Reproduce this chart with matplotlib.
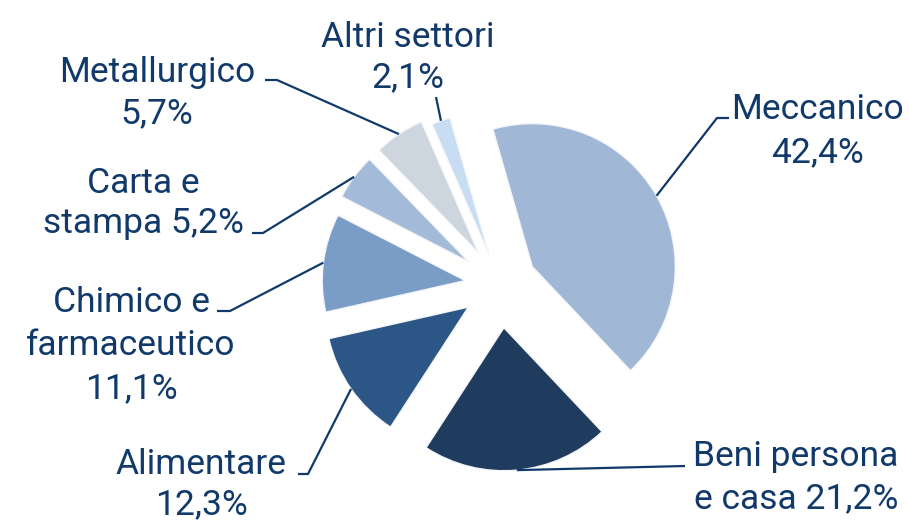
import matplotlib.pyplot as plt
import numpy as np

# sector shares (%)
sectors = ["Meccanico", "Beni persona e casa", "Alimentare", "Chimico e farmaceutico",
           "Carta e stampa", "Metallurgico", "Altri settori"]
shares = [42.4, 21.2, 12.3, 11.1, 5.2, 5.7, 2.1]
colors = ["#a0b8d5", "#1f3b5e", "#2b5686", "#7a9dc7", "#a3bbd8", "#cdd6df", "#c8dcf3"]
explode = [0.26, 0.30, 0.27, 0.245, 0.27, 0.27, 0.22]

# label text, one list entry per line
label_lines = [
    ["Meccanico", "42,4%"],
    ["Beni persona", "e casa 21,2%"],
    ["Alimentare", "12,3%"],
    ["Chimico e", "farmaceutico", "11,1%"],
    ["Carta e", "stampa 5,2%"],
    ["Metallurgico", "5,7%"],
    ["Altri settori", "2,1%"],
]

# layout in pixels (from top-left): label center x, first baseline y, line step,
# leader elbow point and leader end point
W, H = 909, 523
CX, CY, R = 500, 285, 143
label_pos = [(817, 119, 43), (796, 466, 42), (201, 474, 40), (131, 312, 43),
             (143, 193, 40), (157, 82, 41), (408, 47, 40)]
elbow = [(717, 118), (685, 466), (308, 474), (230, 311), (263, 233), (277, 80), (436, 97)]
lead_end = [(729, 118), (685, 466), (298, 474), (217, 311), (252, 233), (265, 80), (436, 97)]

navy = "#113a6b"
plt.rcParams['font.family'] = ['Roboto', 'DejaVu Sans']

fig = plt.figure(figsize=(W / 100, H / 100), dpi=100)
ax = fig.add_axes([0, 0, 1, 1])


def px(x, y):
    return (x - CX) / R, (CY - y) / R


wedges, _ = ax.pie(shares, colors=colors, explode=explode, startangle=106,
                   counterclock=False, radius=1,
                   wedgeprops=dict(edgecolor='#f4f6f9', linewidth=1))

# pie() resets the limits, so set them afterwards
ax.set_xlim(-CX / R, (W - CX) / R)
ax.set_ylim(-(H - CY) / R, CY / R)
ax.set_aspect('equal')
ax.axis('off')

for w, lines, (lx, ly, step), el, en in zip(wedges, label_lines, label_pos, elbow, lead_end):
    mid = np.deg2rad((w.theta1 + w.theta2) / 2)
    sx = w.center[0] + w.r * np.cos(mid)
    sy = w.center[1] + w.r * np.sin(mid)
    ex, ey = px(*el)
    fx, fy = px(*en)
    ax.plot([sx, ex, fx], [sy, ey, fy], color=navy, lw=1.6, solid_capstyle='butt')
    for i, t in enumerate(lines):
        tx, ty = px(lx, ly + i * step)
        ax.text(tx, ty, t, ha='center', va='baseline', fontsize=25.5, color=navy)

fig.savefig("out.png", dpi=100)
